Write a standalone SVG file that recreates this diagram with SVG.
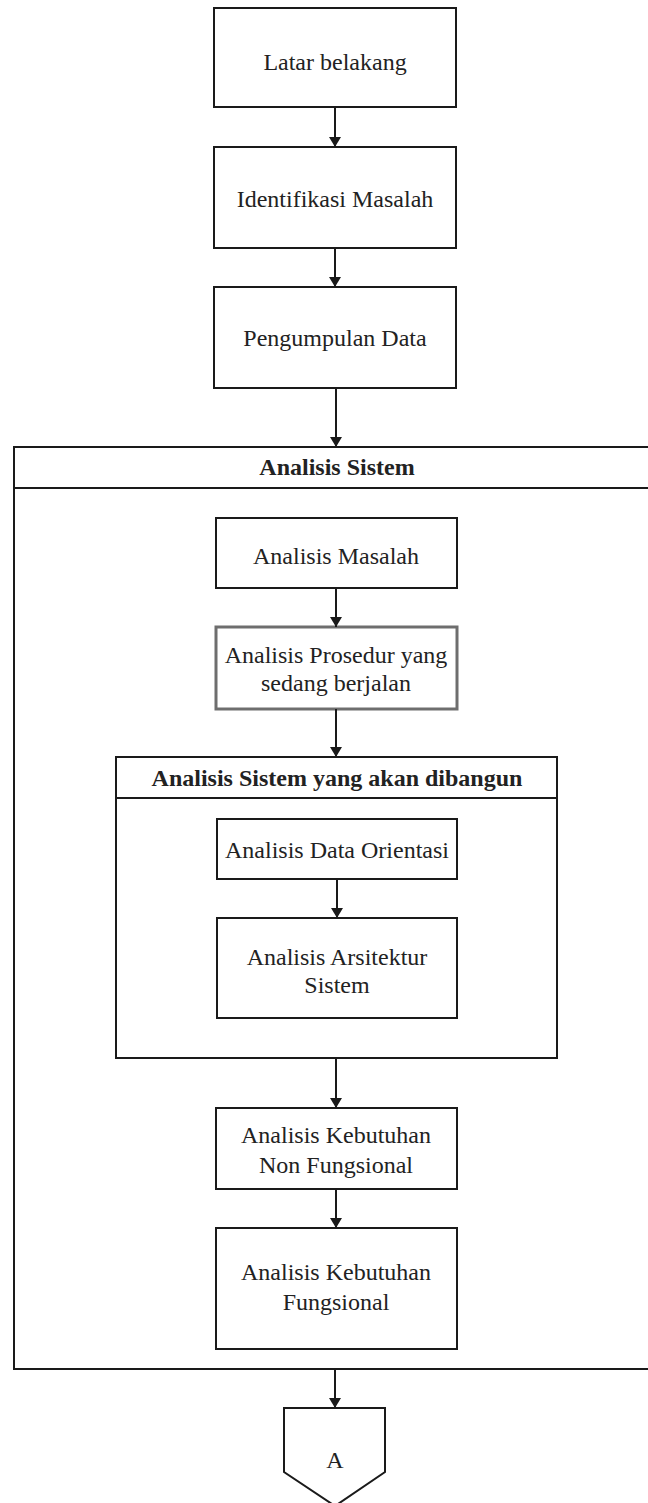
<svg xmlns="http://www.w3.org/2000/svg" width="648" height="1503" viewBox="0 0 648 1503">
<style>
.box{fill:#fff;stroke:#1a1a1a;stroke-width:2}
.gbox{fill:#fff;stroke:#6e6e6e;stroke-width:3}
.t{font-family:"Liberation Serif","Times New Roman",serif;font-size:24px;fill:#222;text-anchor:middle}
.b{font-weight:bold}
.c{stroke:#1a1a1a;stroke-width:2;fill:none;marker-end:url(#ah)}
</style>
<defs>
<marker id="ah" markerWidth="12" markerHeight="12" refX="10" refY="6" orient="auto" markerUnits="userSpaceOnUse">
<path d="M0,0 L10,6 L0,12 Z" fill="#1a1a1a"/>
</marker>
</defs>
<rect width="648" height="1503" fill="#fff"/>
<g id="n-analisis-sistem">
<rect class="box" x="14" y="447" width="650" height="922"/>
<line x1="14" y1="488" x2="664" y2="488" stroke="#1a1a1a" stroke-width="2"/>
<text class="t b" x="337" y="475">Analisis Sistem</text>
</g>
<g id="n-latar">
<rect class="box" x="214" y="8" width="242" height="99"/>
<text class="t" x="335" y="70">Latar belakang</text>
</g>
<g id="n-identifikasi">
<rect class="box" x="214" y="147" width="242" height="101"/>
<text class="t" x="335" y="207">Identifikasi Masalah</text>
</g>
<g id="n-pengumpulan">
<rect class="box" x="214" y="287" width="242" height="101"/>
<text class="t" x="335" y="346">Pengumpulan Data</text>
</g>
<g id="n-masalah">
<rect class="box" x="216" y="518" width="241" height="70"/>
<text class="t" x="336" y="564">Analisis Masalah</text>
</g>
<g id="n-prosedur">
<rect class="gbox" x="216" y="627" width="241" height="82"/>
<text class="t" x="336" y="663">Analisis Prosedur yang</text>
<text class="t" x="336" y="691">sedang berjalan</text>
</g>
<g id="n-dibangun">
<rect class="box" x="116" y="757" width="441" height="301"/>
<line x1="116" y1="798" x2="557" y2="798" stroke="#1a1a1a" stroke-width="2"/>
<text class="t b" x="337" y="786">Analisis Sistem yang akan dibangun</text>
</g>
<g id="n-data-orientasi">
<rect class="box" x="217" y="819" width="240" height="60"/>
<text class="t" x="337" y="858">Analisis Data Orientasi</text>
</g>
<g id="n-arsitektur">
<rect class="box" x="217" y="918" width="240" height="100"/>
<text class="t" x="337" y="965">Analisis Arsitektur</text>
<text class="t" x="337" y="993">Sistem</text>
</g>
<g id="n-nonfungsional">
<rect class="box" x="216" y="1108" width="241" height="81"/>
<text class="t" x="336" y="1143">Analisis Kebutuhan</text>
<text class="t" x="336" y="1173">Non Fungsional</text>
</g>
<g id="n-fungsional">
<rect class="box" x="216" y="1228" width="241" height="121"/>
<text class="t" x="336" y="1280">Analisis Kebutuhan</text>
<text class="t" x="336" y="1310">Fungsional</text>
</g>
<g id="n-a">
<polygon class="box" points="284,1408 385,1408 385,1472 335,1506 284,1472"/>
<text class="t" x="335" y="1468">A</text>
</g>
<g id="connectors">
<line class="c" x1="335" y1="107" x2="335" y2="147"/>
<line class="c" x1="335" y1="248" x2="335" y2="287"/>
<line class="c" x1="336" y1="388" x2="336" y2="447"/>
<line class="c" x1="336" y1="588" x2="336" y2="627"/>
<line class="c" x1="336" y1="709" x2="336" y2="757"/>
<line class="c" x1="337" y1="879" x2="337" y2="918"/>
<line class="c" x1="336" y1="1058" x2="336" y2="1108"/>
<line class="c" x1="336" y1="1189" x2="336" y2="1228"/>
<line class="c" x1="335" y1="1369" x2="335" y2="1408"/>
</g>
</svg>
